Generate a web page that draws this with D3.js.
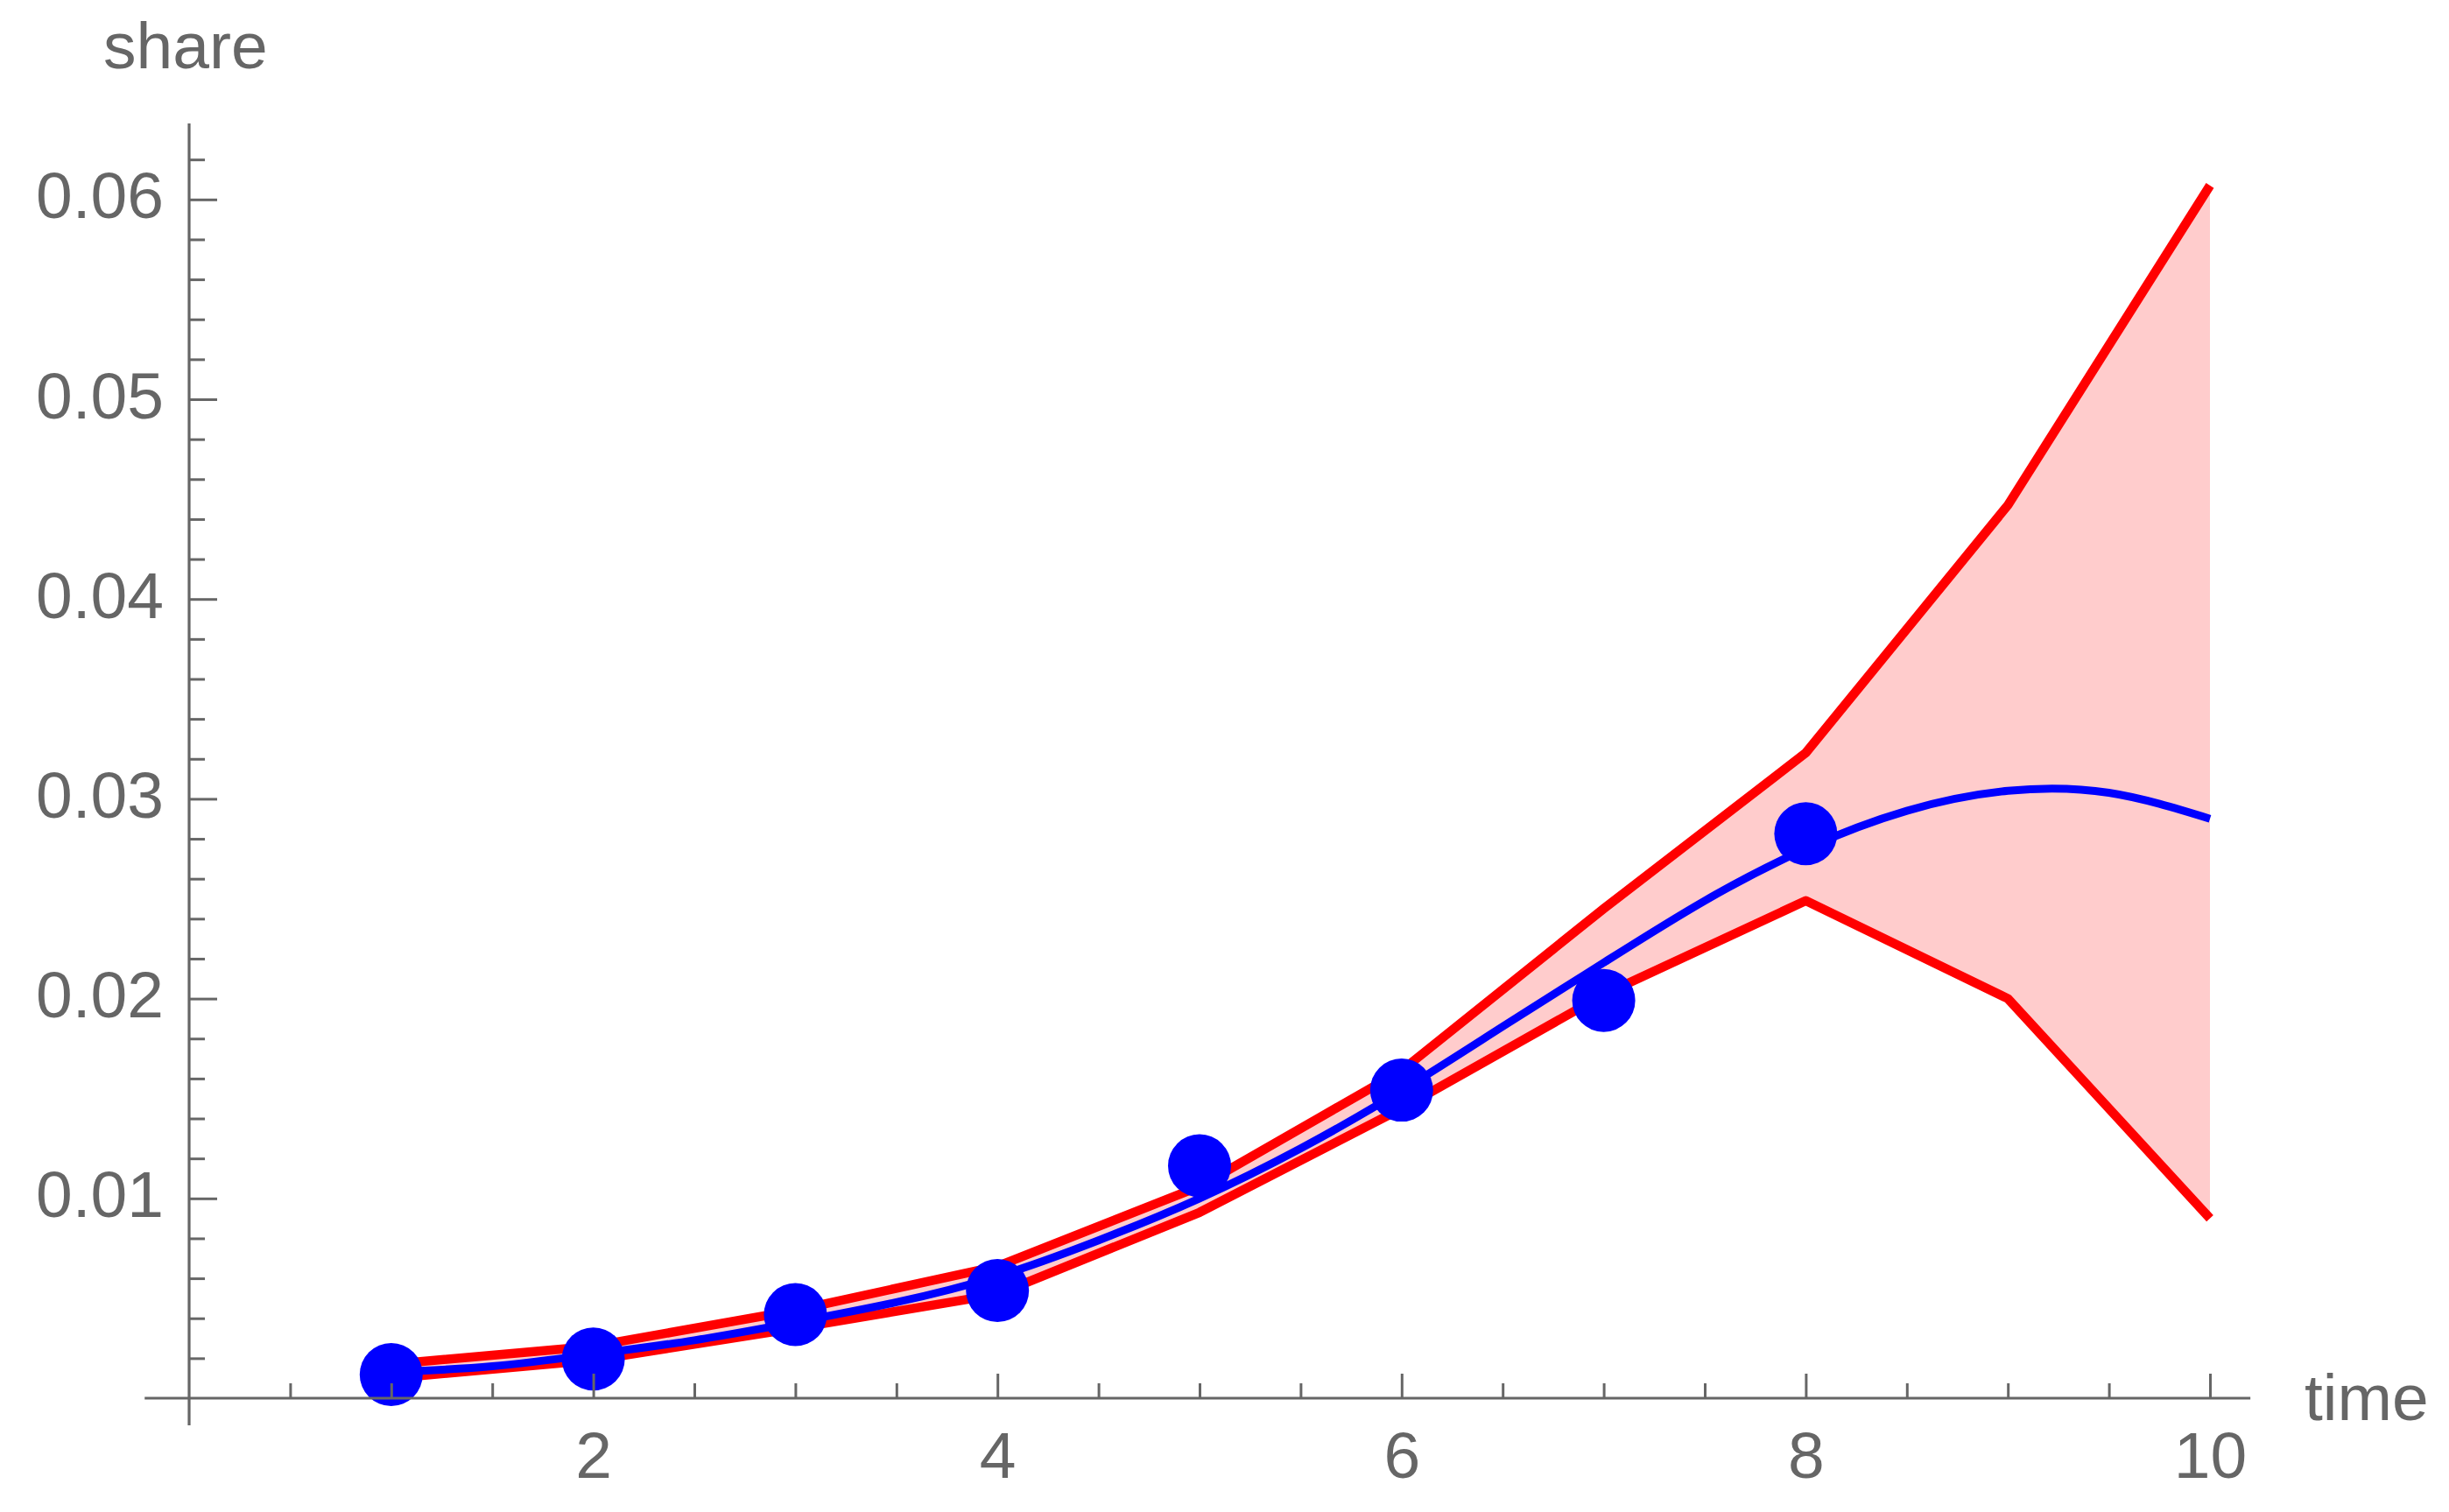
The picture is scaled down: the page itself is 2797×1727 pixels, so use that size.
<!DOCTYPE html>
<meta charset="utf-8">
<script src="https://d3js.org/d3.v7.min.js"></script>
<style>
  body { margin: 0; background: #fff; }
  text { font-family: "Liberation Sans", Arial, sans-serif; }
</style>
<div id="chart"></div>
<script>

// observed points (time, share)
const times = [1, 2, 3, 4, 5, 6, 7, 8];
const shares = [0.00118, 0.00196, 0.00418, 0.00539, 0.01163, 0.01542, 0.01991, 0.02825];

// band limits, time 1..10
const bandTimes = [1, 2, 3, 4, 5, 6, 7, 8, 9, 10];
const upper = [0.0017, 0.0026, 0.0044, 0.0066, 0.0106, 0.0164, 0.0245, 0.0323, 0.0447, 0.0607];
const lower = [0.0010, 0.0019, 0.0035, 0.0052, 0.0093, 0.0145, 0.0202, 0.0249, 0.0200, 0.0090];

// fitted curve
const fitTimes = [1, 1.5, 2, 2.5, 3, 3.5, 4, 4.5, 5, 5.5, 6, 6.5, 7, 7.5, 8, 8.5, 9, 9.5, 10];
const fitShares = [0.0013, 0.0016, 0.0022, 0.0029, 0.0038, 0.0048, 0.0061, 0.0079, 0.0100, 0.0125,
                   0.0154, 0.0186, 0.0218, 0.0249, 0.0275, 0.0294, 0.0304, 0.0303, 0.0290];

// ticks
const xMajor = [2, 4, 6, 8, 10];
const xMinor = [0.5, 1, 1.5, 2.5, 3, 3.5, 4.5, 5, 5.5, 6.5, 7, 7.5, 8.5, 9, 9.5];
const yMajor = [0.01, 0.02, 0.03, 0.04, 0.05, 0.06];
const yMinor = [0.002, 0.004, 0.006, 0.008, 0.012, 0.014, 0.016, 0.018, 0.022, 0.024, 0.026, 0.028,
                0.032, 0.034, 0.036, 0.038, 0.042, 0.044, 0.046, 0.048, 0.052, 0.054, 0.056, 0.058, 0.062];

// visible extent of the axis lines
const xAxisSpan = [-0.22, 10.2];
const yAxisSpan = [-0.00136, 0.0638];

const W = 2797, H = 1727;
const axisColor = "#666666";

const svg = d3.select("#chart")
  .append("svg")
    .attr("width", W)
    .attr("height", H);

svg.append("rect").attr("width", W).attr("height", H).attr("fill", "#fff");

const x = d3.scaleLinear().domain([0, 10]).range([216, 2524]);
const y = d3.scaleLinear().domain([0, 0.06]).range([1597, 227.8]);

const band = bandTimes.map((t, i) => ({t: t, lo: lower[i], hi: upper[i]}));

// shaded band
svg.append("path")
  .datum(band)
  .attr("fill", "rgb(255,204,204)")
  .attr("d", d3.area()
    .x(d => x(d.t))
    .y0(d => y(d.lo))
    .y1(d => y(d.hi)));

// red limits
[upper, lower].forEach(vals => {
  svg.append("path")
    .datum(bandTimes.map((t, i) => [t, vals[i]]))
    .attr("fill", "none")
    .attr("stroke", "#ff0000")
    .attr("stroke-width", 10.5)
    .attr("stroke-linejoin", "round")
    .attr("d", d3.line().x(d => x(d[0])).y(d => y(d[1])));
});

// fitted blue curve
svg.append("path")
  .datum(fitTimes.map((t, i) => [t, fitShares[i]]))
  .attr("fill", "none")
  .attr("stroke", "#0000ff")
  .attr("stroke-width", 9)
  .attr("d", d3.line().curve(d3.curveNatural).x(d => x(d[0])).y(d => y(d[1])));

// points
svg.append("g")
  .selectAll("circle")
  .data(times.map((t, i) => [t, shares[i]]))
  .join("circle")
    .attr("cx", d => x(d[0]))
    .attr("cy", d => y(d[1]))
    .attr("r", 36)
    .attr("fill", "#0000ff");

// axes (drawn on top, as in the original)
const axes = svg.append("g");

axes.append("line")
  .attr("x1", x(xAxisSpan[0])).attr("x2", x(xAxisSpan[1]))
  .attr("y1", y(0)).attr("y2", y(0))
  .attr("stroke", axisColor).attr("stroke-width", 3.2);

axes.append("line")
  .attr("x1", x(0)).attr("x2", x(0))
  .attr("y1", y(yAxisSpan[0])).attr("y2", y(yAxisSpan[1]))
  .attr("stroke", axisColor).attr("stroke-width", 3.2);

function styleAxis(g) {
  g.select(".domain").remove();
  g.selectAll(".tick line").attr("stroke", axisColor).attr("stroke-width", 3);
  g.selectAll(".tick text")
    .attr("fill", axisColor)
    .style("font-size", "75px")
    .style("font-family", "'Liberation Sans', Arial, sans-serif");
}

// x ticks
axes.append("g")
  .attr("transform", `translate(0,${y(0)})`)
  .call(d3.axisBottom(x).tickValues(xMinor).tickSize(-17).tickFormat(""))
  .call(styleAxis);
axes.append("g")
  .attr("transform", `translate(0,${y(0)})`)
  .call(d3.axisBottom(x).tickValues(xMajor).tickSize(-28).tickPadding(38).tickFormat(d3.format("d")))
  .call(styleAxis);

// y ticks
axes.append("g")
  .attr("transform", `translate(${x(0)},0)`)
  .call(d3.axisLeft(y).tickValues(yMinor).tickSize(-18).tickFormat(""))
  .call(styleAxis);
axes.append("g")
  .attr("transform", `translate(${x(0)},0)`)
  .call(d3.axisLeft(y).tickValues(yMajor).tickSize(-32).tickPadding(29).tickFormat(d3.format(".2f")))
  .call(styleAxis)
  .selectAll(".tick text").attr("dy", "0.28em");

// axis labels
svg.append("text")
  .attr("x", 118)
  .attr("y", 78)
  .attr("fill", axisColor)
  .style("font-size", "75px")
  .text("share");

svg.append("text")
  .attr("x", 2632)
  .attr("y", 1622)
  .attr("fill", axisColor)
  .style("font-size", "75px")
  .text("time");

</script>
